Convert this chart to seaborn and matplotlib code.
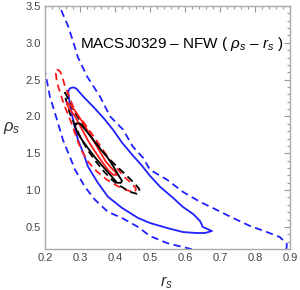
import numpy as np
import pandas as pd
import matplotlib
matplotlib.use("Agg")
import matplotlib.pyplot as plt
import seaborn as sns
from matplotlib.ticker import MultipleLocator

# ---------------------------------------------------------------
# contour outlines (r_s, rho_s)
# ---------------------------------------------------------------
blue_dash_r = [0.226, 0.237, 0.251, 0.266, 0.280, 0.294, 0.320, 0.357, 0.386, 0.423, 0.451, 0.480,
               0.500, 0.549, 0.594, 0.643, 0.691, 0.737, 0.786, 0.834, 0.871, 0.891, 0.889, 0.857,
               0.757, 0.671, 0.643, 0.594, 0.549, 0.500, 0.466, 0.420, 0.380, 0.343, 0.314, 0.286,
               0.266, 0.251, 0.234, 0.214, 0.200, 0.186, 0.171, 0.186]
blue_dash_rho = [3.80, 3.555, 3.391, 3.227, 3.023, 2.804, 2.545, 2.272, 2.000, 1.822, 1.590, 1.440,
                 1.276, 1.140, 0.976, 0.840, 0.730, 0.621, 0.512, 0.430, 0.362, 0.267, 0.158, 0.103,
                 0.076, 0.103, 0.171, 0.226, 0.280, 0.376, 0.499, 0.621, 0.703, 0.867, 1.044, 1.276,
                 1.509, 1.686, 1.959, 2.272, 2.613, 2.913, 3.323, 3.868]

blue_solid_r = [0.266, 0.271, 0.280, 0.289, 0.309, 0.337, 0.366, 0.394, 0.420, 0.449, 0.477, 0.500,
                0.529, 0.566, 0.594, 0.623, 0.643, 0.651, 0.677, 0.657, 0.634, 0.594, 0.549, 0.500,
                0.466, 0.420, 0.380, 0.351, 0.323, 0.309, 0.294, 0.283, 0.274, 0.269]
blue_solid_rho = [2.340, 2.381, 2.395, 2.381, 2.272, 2.136, 1.986, 1.822, 1.645, 1.481, 1.331, 1.194,
                  1.044, 0.894, 0.771, 0.676, 0.580, 0.499, 0.444, 0.417, 0.417, 0.430, 0.485, 0.553,
                  0.621, 0.758, 0.908, 1.099, 1.317, 1.509, 1.686, 1.890, 2.095, 2.231]

red_dash_r = [0.234, 0.243, 0.249, 0.257, 0.269, 0.280, 0.291, 0.309, 0.329, 0.349, 0.369, 0.389,
              0.409, 0.429, 0.449, 0.460, 0.457, 0.451, 0.431, 0.406, 0.377, 0.349, 0.323, 0.303,
              0.289, 0.277, 0.266, 0.254, 0.243, 0.234, 0.231]
red_dash_rho = [2.641, 2.613, 2.545, 2.409, 2.272, 2.136, 2.027, 1.931, 1.795, 1.659, 1.522, 1.385,
                1.276, 1.167, 1.085, 1.017, 0.976, 0.976, 1.003, 1.058, 1.140, 1.249, 1.385, 1.549,
                1.727, 1.890, 2.027, 2.163, 2.327, 2.463, 2.586]

red_solid_r = [0.263, 0.274, 0.289, 0.306, 0.323, 0.340, 0.357, 0.374, 0.389, 0.400, 0.406,
               0.394, 0.380, 0.363, 0.343, 0.323, 0.303, 0.286, 0.271, 0.263]
red_solid_rho = [2.190, 2.149, 2.054, 1.931, 1.795, 1.659, 1.522, 1.385, 1.303, 1.249, 1.208,
                 1.208, 1.276, 1.385, 1.522, 1.672, 1.849, 2.000, 2.095, 2.163]

black_solid_r = [0.289, 0.300, 0.317, 0.337, 0.357, 0.377, 0.394, 0.409, 0.420, 0.417,
                 0.406, 0.386, 0.366, 0.346, 0.326, 0.309, 0.294, 0.286]
black_solid_rho = [1.904, 1.904, 1.809, 1.686, 1.563, 1.454, 1.331, 1.208, 1.126, 1.099,
                   1.099, 1.208, 1.317, 1.426, 1.549, 1.659, 1.767, 1.863]

black_dash_r = [0.257, 0.263, 0.271, 0.283, 0.300, 0.320, 0.340, 0.360, 0.380, 0.403, 0.431, 0.454,
                0.469, 0.471, 0.463, 0.443, 0.414, 0.391, 0.369, 0.346, 0.323, 0.303, 0.286, 0.271,
                0.263, 0.257]
black_dash_rho = [2.327, 2.272, 2.177, 2.068, 1.945, 1.809, 1.672, 1.549, 1.440, 1.331, 1.208, 1.099,
                  1.017, 0.976, 0.949, 0.976, 1.058, 1.140, 1.249, 1.385, 1.536, 1.699, 1.877, 2.041,
                  2.177, 2.272]

x_ticks = [0.2, 0.3, 0.4, 0.5, 0.6, 0.7, 0.8, 0.9]
y_ticks = [0.5, 1.0, 1.5, 2.0, 2.5, 3.0, 3.5]

# ---------------------------------------------------------------
# figure
# ---------------------------------------------------------------
sns.set_theme(style="white")
plt.rcParams['font.family'] = ['Liberation Sans', 'DejaVu Sans']
plt.rcParams['mathtext.fontset'] = 'custom'
plt.rcParams['mathtext.rm'] = 'Liberation Sans'
plt.rcParams['mathtext.it'] = 'Liberation Sans:italic'

fig = plt.figure(figsize=(3.0, 2.9), dpi=100)
ax = fig.add_axes([0.15, 0.1414, 0.8167, 0.8379])

BLUE = "#1f1fff"
curves = [
    (blue_dash_r, blue_dash_rho, BLUE, "--"),
    (blue_solid_r, blue_solid_rho, BLUE, "-"),
    (red_dash_r, red_dash_rho, "#ff1a1a", "--"),
    (black_dash_r, black_dash_rho, "black", "--"),
    (red_solid_r, red_solid_rho, "#ff1a1a", "-"),
    (black_solid_r, black_solid_rho, "black", "-"),
]
for r, rho, col, ls in curves:
    d = pd.DataFrame({"r": list(r) + [r[0]], "rho": list(rho) + [rho[0]]})
    sns.lineplot(data=d, x="r", y="rho", sort=False, estimator=None,
                 color=col, linewidth=1.3, ax=ax)
    if ls == "--":
        ax.lines[-1].set_dashes([4, 2.5])

ax.set_xlim(0.2, 0.9)
ax.set_ylim(0.2, 3.5)
ax.set_xticks(x_ticks)
ax.set_yticks(y_ticks)
ax.set_xticklabels([f"{v:.1f}" for v in x_ticks])
ax.set_yticklabels([f"{v:.1f}" for v in y_ticks])
ax.xaxis.set_minor_locator(MultipleLocator(0.02))
ax.yaxis.set_minor_locator(MultipleLocator(0.1))
ax.tick_params(which="both", direction="in", top=True, right=True, color="#999999",
               width=0.8, labelsize=8, labelcolor="#444444", pad=3)
ax.tick_params(which="major", length=4.5)
ax.tick_params(which="minor", length=2.5)
for s in ax.spines.values():
    s.set_color("#aaaaaa")
    s.set_linewidth(1.0)

ax.set_xlabel(r"$r_s$", fontsize=12, color="#333333")
ax.set_ylabel(r"$\rho_s$", fontsize=12, color="#333333", rotation=0)
ax.xaxis.set_label_coords(0.498, -0.105)
ax.yaxis.set_label_coords(-0.135, 0.465)

ax.text(0.3, 2.98, r"MACSJ0329 – NFW ( $\rho_s$ – $r_s$ )", fontsize=11,
        ha="left", va="center", color="black", clip_on=False)

fig.savefig("out.png", dpi=100)
